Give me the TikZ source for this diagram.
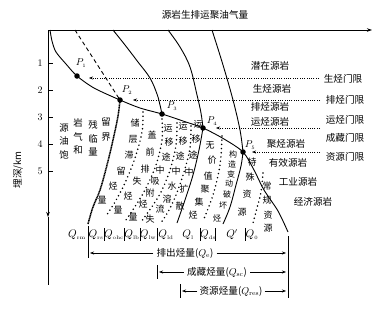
\documentclass[tikz,border=0pt]{standalone}
\usepackage{fontspec}
\newfontfamily\cjk{Noto Sans CJK SC}
\usetikzlibrary{arrows.meta}
\begin{document}
\begin{tikzpicture}[x=1pt,y=-1pt,
 ax/.style={line width=0.7pt},
 crv/.style={line width=0.9pt},
 dcol/.style={line width=1.7pt, line cap=round, dash pattern=on 0pt off 4.2pt},
 stip/.style={line width=1.5pt, dash pattern=on 1.2pt off 0.5pt},
 thr/.style={line width=0.5pt, dash pattern=on 1pt off 1.3pt, -{Stealth[length=4pt,width=3pt]}},
 pdot/.style={circle, fill, inner sep=0pt, minimum size=5.5pt},
 cn/.style={font=\cjk\fontsize{9}{9}\selectfont, inner sep=0pt},
 lb/.style={font=\cjk\fontsize{9.6}{10}\selectfont, inner sep=0pt},
 ql/.style={font=\fontsize{10.5}{10}\selectfont, inner sep=0pt},
 pl/.style={font=\fontsize{10}{10}\selectfont, inner sep=0pt},
 barl/.style={line width=0.7pt},
 dimarrow/.style={line width=0.5pt, -{Stealth[length=4pt,width=3pt]}}]
\useasboundingbox (0,0) rectangle (383,311);
% axes
\coordinate (O) at (48,30);
\coordinate (xe) at (372,30);
\coordinate (ya) at (48,217);
\coordinate (ye) at (48,285);
\draw[ax,-{Stealth[length=5pt,width=3.5pt]}] (O) -- (xe);
\draw[ax,-{Stealth[length=5pt,width=3.5pt]}] (O) -- (ya);
\draw[ax] (ya) -- (ye);
\node[lb] (title) at (205,15) {源岩生排运聚油气量};
\foreach \v/\y in {1/63,2/90,3/117,4/144,5/171}{
  \draw[ax] (48,\y) -- (53,\y);
  \node[pl] (t\v) at (40,\y) {\v};
}
\node[lb,rotate=90] (ylab) at (18,170) {埋深/km};
% key points
\coordinate (P1) at (77,76);
\coordinate (P2) at (120,100);
\coordinate (P3) at (162,114);
\coordinate (P4) at (203,128);
\coordinate (P5) at (243,152);
% curves
\draw[crv] plot[smooth,tension=0.5] coordinates {(50,30) (52,41) (56,52) (66,64) (P1) (94,88) (P2) (140,108) (P3) (183,121) (P4) (224,139) (P5) (254,170) (264,190) (278,211) (288,232)};
\draw[crv,dash pattern=on 4pt off 3pt] (75,30) -- (P2);
\draw[crv] plot[smooth,tension=0.6] coordinates {(113,30) (125,45) (138,62) (150,78) (157,94) (160,105) (P3)};
\draw[crv] plot[smooth,tension=0.6] coordinates {(168,30) (180,47) (190,67) (197,95) (201,113) (P4)};
\draw[crv] plot[smooth,tension=0.6] coordinates {(212,30) (223,65) (233,100) (240,130) (P5)};
\draw[stip] plot[smooth,tension=0.6] coordinates {(P2) (118,116) (113,140) (107,165) (100,190) (93,207) (88,224)};
\draw[crv] plot[smooth,tension=0.6] coordinates {(P4) (199,150) (193,175) (185,200) (177,223)};
\draw[crv] plot[smooth,tension=0.6] coordinates {(P5) (241,166) (236,185) (230,207) (223,224)};
% dotted column borders
\draw[dcol] plot[smooth,tension=0.6] coordinates {(143,112) (142,132) (135,158) (125,183) (115,202) (106,216)};
\draw[dcol] plot[smooth,tension=0.6] coordinates {(162,119) (162,140) (156,165) (146,188) (136,205) (126,220)};
\draw[dcol] plot[smooth,tension=0.6] coordinates {(177,123) (176,145) (170,170) (161,192) (151,208) (141,222)};
\draw[dcol] plot[smooth,tension=0.6] coordinates {(191,126) (190,148) (184,172) (176,195) (168,212) (160,224)};
\draw[dcol] plot[smooth,tension=0.6] coordinates {(222,136) (220,165) (213,195) (203,221)};
\draw[dcol] plot[smooth,tension=0.6] coordinates {(263,173) (261,192) (257,208) (253,223)};
% point markers and labels
\foreach \p/\lx/\ly in {1/81/63,2/127/90,3/172/106,4/212/121,5/250/145}{
  \node[pdot] (dot\p) at (P\p) {};
  \node[pl] (lp\p) at (\lx,\ly) {$P_{\scriptscriptstyle\p}$};
}
% region 1 text
\foreach \c/\x/\y [count=\i] in {源/64/128,岩/78/123,残/93/125,留/106/122,油/64/141,气/78/137,临/93/139,界/106/137,饱/64/155,和/78/150,量/93/152}
  \node[cn,font=\cjk\fontsize{9.4}{10}\selectfont] (r\i) at (\x,\y) {\c};
% column texts
\foreach \c/\x/\y [count=\i] in {储/135/123,层/133/139,滞/129/155,留/121/171,烃/113/186,量/102/200}
  \node[cn] (ca\i) at (\x,\y) {\c};
\foreach \c/\x/\y [count=\i] in {盖/152/135,前/150/152,排/145/169,失/137/181,烃/128/196,量/118/210}
  \node[cn] (cb\i) at (\x,\y) {\c};
\foreach \c/\x/\y [count=\i] in {运/168/128,移/169/142,途/166/157,中/160/170,吸/155/181,附/150/193,烃/143/204,量/133/217}
  \node[cn] (cc\i) at (\x,\y) {\c};
\foreach \c/\x/\y [count=\i] in {运/183/126,移/183/141,途/180/156,中/176/171,水/172/186,溶/167/199,流/160/209,失/150/219}
  \node[cn] (cd\i) at (\x,\y) {\c};
\foreach \c/\x/\y [count=\i] in {运/198/124,移/196/139,途/193/155,中/189/172,扩/184/189,散/180/206}
  \node[cn] (ce\i) at (\x,\y) {\c};
\foreach \c/\x/\y [count=\i] in {无/210/145,价/212/160,值/208/176,聚/205/189,集/199/202,烃/193/215}
  \node[cn] (cf\i) at (\x,\y) {\c};
\foreach \c/\x/\y [count=\i] in {构/233/154,造/232/164,变/231/174,动/229/184,破/227/194,坏/223/205,烃/217/218}
  \node[cn,font=\cjk\fontsize{8}{8}\selectfont] (cg\i) at (\x,\y) {\c};
\foreach \c/\x/\y [count=\i] in {特/252/162,殊/250/177,资/247/194,源/242/212}
  \node[cn] (ch\i) at (\x,\y) {\c};
\foreach \c/\x/\y [count=\i] in {常/267/186,规/267/200,资/268/215,源/268/228}
  \node[cn] (ci\i) at (\x,\y) {\c};
% source rock labels
\node[lb] (s1) at (270,66) {潜在源岩};
\node[lb] (s2) at (272,89) {生烃源岩};
\node[lb] (s3) at (270,107) {排烃源岩};
\node[lb] (s4) at (270,122) {运烃源岩};
\node[lb] (s5) at (286,144) {聚烃源岩};
\node[lb] (s6) at (288,163) {有效源岩};
\node[lb] (s7) at (298,182) {工业源岩};
\node[lb] (s8) at (313,202) {经济源岩};
% threshold labels
\node[lb] (L1) at (343,79) {生烃门限};
\node[lb] (L2) at (345,100) {排烃门限};
\node[lb] (L3) at (345,120) {运烃门限};
\node[lb] (L4) at (345,138) {成藏门限};
\node[lb] (L5) at (345,157) {资源门限};
\coordinate (a1s) at (319,78);  \coordinate (a1e) at (89,78);
\coordinate (a2s) at (320,100); \coordinate (a2e) at (133,100);
\coordinate (a3s) at (320,128); \coordinate (a3e) at (216,128);
\coordinate (a5s) at (320,152); \coordinate (a5e) at (252,152);
\draw[thr] (a1s) -- (a1e);
\draw[thr] (a2s) -- (a2e);
\draw[thr] (a3s) -- (a3e);
\draw[thr] (a5s) -- (a5e);
% bottom Q labels
\foreach \t/\x [count=\i] in {rm/77,rs/96,ohc/114,lb/132,lw/148,ld/166,l/188,ds/208}
  \node[ql] (q\i) at (\x,235) {$Q_{\scriptscriptstyle\mathrm{\t}}$};
\node[ql] (q9) at (232,235) {$Q'$};
\node[ql] (q10) at (252,235) {$Q_{\scriptscriptstyle 0}$};
\foreach \x in {104,124.5,140,157.5,200,215,245}
  \draw[barl] (\x,228) -- (\x,241);
\draw[barl] (88,226) -- (88,258);
% bottom dimension rows
\node[lb] (e1) at (185,253) {排出烃量($Q_{\mathrm{e}}$)};
\node[lb] (e2) at (217,272) {成藏烃量($Q_{\mathrm{sc}}$)};
\node[lb] (e3) at (231,291) {资源烃量($Q_{\mathrm{res}}$)};
\coordinate (rb1) at (288,236);
\coordinate (rb2) at (288,298);
\draw[barl] (rb1) -- (rb2);
\draw[barl] (157,265) -- (157,279);
\draw[barl] (180,284) -- (180,298);
\draw[dimarrow] ([xshift=-3pt]e1.west) -- (90,253);
\draw[dimarrow] ([xshift=3pt]e1.east) -- (286,253);
\draw[dimarrow] ([xshift=-3pt]e2.west) -- (159,272);
\draw[dimarrow] ([xshift=3pt]e2.east) -- (286,272);
\draw[dimarrow] ([xshift=-2pt]e3.west) -- (182,291);
\draw[dimarrow] ([xshift=2pt]e3.east) -- (286,291);
\end{tikzpicture}
\end{document}
